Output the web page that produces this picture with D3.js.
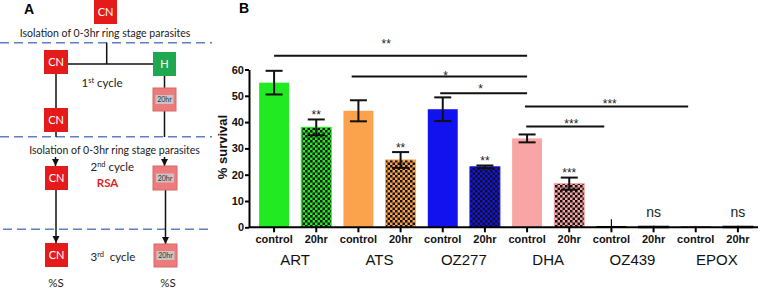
<!DOCTYPE html>
<html>
<head>
<meta charset="utf-8">
<script src="https://cdn.jsdelivr.net/npm/d3@7"></script>
<style>
  body { margin: 0; background: #fff; }
  svg { display: block; }
</style>
</head>
<body>
<div id="chart"></div>
<script>
// ---- data (panel B) ----
const groups = ["ART", "ATS", "OZ277", "DHA", "OZ439", "EPOX"];
const conditions = ["control", "20hr"];
const controlMean = [55, 44.3, 44.9, 33.8, 0.5, 0.3];
const controlErr = [4.5, 4, 4.5, 1.5, 2.6, 0.2];
const hrMean = [38, 25.6, 23.0, 16.6, 0.4, 0.4];
const hrErr = [3, 3, 0.5, 2.3, 0.2, 0.2];
const hrMarks = ["**", "**", "**", "***", "ns", "ns"];
const groupColors = ["#22ea22", "#fba24c", "#1212ef", "#f8a5a5", "#111", "#111"];
const yTicks = [0, 10, 20, 30, 40, 50, 60];
// comparison brackets, in bar slots (0..11) and % survival
const bracketFrom = [0, 1.84, 3.94, 5.95, 5.98];
const bracketTo = [6, 6, 6, 9.82, 7.83];
const bracketY = [65.2, 57.3, 51, 45.9, 38.3];
const bracketLabel = ["**", "*", "*", "***", "***"];
const bracketLabelAt = [2.66, 4.07, 4.9, 7.96, 7.05];

const W = 760, H = 288;
const svg = d3.select("#chart").append("svg")
  .attr("width", W).attr("height", H)
  .attr("viewBox", `0 0 ${W} ${H}`);

const defs = svg.append("defs");

// ================= panel A (schematic) =================
const A = svg.append("g").attr("class", "panelA");
const fontA = "Lato, 'Open Sans', sans-serif";
const red = "#e51a1a", green = "#1fa84f", pink = "#ee7b7b", dashBlue = "#5b80c4";

A.append("text").attr("x", 24).attr("y", 14)
  .style("font", "bold 14px 'Liberation Sans', Arial, sans-serif").text("A");

// dashed separators
[[0, 42.7], [0, 136.7], [3, 229.3]].forEach(([x0, y]) => {
  A.append("line").attr("x1", x0).attr("x2", 212).attr("y1", y).attr("y2", y)
    .attr("stroke", dashBlue).attr("stroke-width", 1.6).attr("stroke-dasharray", "9,5");
});

defs.append("marker").attr("id", "arr").attr("viewBox", "0 0 6 6")
  .attr("refX", 6).attr("refY", 3).attr("markerWidth", 5).attr("markerHeight", 5)
  .attr("orient", "auto")
  .append("path").attr("d", "M0,0L6,3L0,6Z").attr("fill", "#111");

const conn = [
  [106.7, 42.7, 106.7, 64, false],
  [68, 64, 153, 64, false],
  [56, 74, 56, 108, false],
  [56, 132, 56, 137, false],
  [164.5, 76, 164.5, 88, false],
  [164.5, 111, 164.5, 137, false],
  [55.5, 157, 55.5, 166, true],
  [164.5, 157, 164.5, 166, true],
  [56, 190, 56, 243, true],
  [165.5, 190, 165.5, 244, true]
];
conn.forEach(([x1, y1, x2, y2, arrow]) => {
  const l = A.append("line").attr("x1", x1).attr("y1", y1).attr("x2", x2).attr("y2", y2)
    .attr("stroke", "#111").attr("stroke-width", 1.5);
  if (arrow) l.attr("marker-end", "url(#arr)");
});

const boxes = [
  { x: 94, y: -1, w: 23, h: 25, kind: "CN" },
  { x: 44, y: 50, w: 24, h: 24, kind: "CN" },
  { x: 153, y: 52, w: 23, h: 24, kind: "H" },
  { x: 153, y: 88, w: 23, h: 23, kind: "20hr" },
  { x: 44, y: 108, w: 24, h: 24, kind: "CN" },
  { x: 45, y: 166, w: 23, h: 24, kind: "CN" },
  { x: 153, y: 166, w: 24, h: 24, kind: "20hr" },
  { x: 45, y: 243, w: 23, h: 24, kind: "CN" },
  { x: 154, y: 244, w: 23, h: 23, kind: "20hr" }
];
boxes.forEach(b => {
  const fill = b.kind === "CN" ? red : b.kind === "H" ? green : pink;
  A.append("rect").attr("x", b.x).attr("y", b.y).attr("width", b.w).attr("height", b.h)
    .attr("fill", fill).attr("stroke", b.kind === "20hr" ? "#d46a6a" : "none");
  const cx = b.x + b.w / 2, cy = b.y + b.h / 2;
  if (b.kind === "20hr") {
    A.append("rect").attr("x", cx - 9).attr("y", cy - 4.5).attr("width", 18).attr("height", 9)
      .attr("fill", "#c9c4c4");
    A.append("text").attr("x", cx).attr("y", cy + 2.5).attr("text-anchor", "middle")
      .style("font", "7px " + fontA).attr("fill", "#333").text("20hr");
  } else {
    A.append("text").attr("x", cx).attr("y", cy + 4).attr("text-anchor", "middle")
      .style("font", "11px " + fontA).attr("fill", "#fff").text(b.kind);
  }
});

A.append("text").attr("x", 105).attr("y", 37).attr("text-anchor", "middle")
  .style("font", "10.5px " + fontA).attr("fill", "#222")
  .text("Isolation of 0-3hr ring stage parasites");
A.append("text").attr("x", 114.5).attr("y", 154).attr("text-anchor", "middle")
  .style("font", "10.5px " + fontA).attr("fill", "#222")
  .text("Isolation of 0-3hr ring stage parasites");

function cycleLabel(x, y, num, sup, gap) {
  const t = A.append("text").attr("x", x).attr("y", y)
    .style("font", "11.5px " + fontA).attr("fill", "#222");
  t.append("tspan").text(num);
  t.append("tspan").attr("dy", -4).style("font-size", "7.5px").text(sup);
  t.append("tspan").attr("dy", 4).text(gap + "cycle");
}
cycleLabel(81.5, 87, "1", "st", " ");
cycleLabel(90.5, 171, "2", "nd", " ");
cycleLabel(90.5, 261, "3", "rd", "\u00a0 ");

A.append("text").attr("x", 107.5).attr("y", 187).attr("text-anchor", "middle")
  .style("font", "bold 11.5px " + fontA).attr("fill", "#e02424").text("RSA");
A.append("text").attr("x", 56).attr("y", 287).attr("text-anchor", "middle")
  .style("font", "11.5px " + fontA).attr("fill", "#222").text("%S");
A.append("text").attr("x", 168).attr("y", 287).attr("text-anchor", "middle")
  .style("font", "11.5px " + fontA).attr("fill", "#222").text("%S");

// ================= panel B (bar chart) =================
const fontB = "'Liberation Sans', Arial, sans-serif";
const B = svg.append("g").attr("class", "panelB");

B.append("text").attr("x", 239).attr("y", 13)
  .style("font", "bold 14px " + fontB).text("B");

const bars = [];
groups.forEach((g, i) => {
  bars.push({ group: g, gi: i, cond: conditions[0], mean: controlMean[i], err: controlErr[i], mark: null });
  bars.push({ group: g, gi: i, cond: conditions[1], mean: hrMean[i], err: hrErr[i], mark: hrMarks[i] });
});

const x = d3.scaleBand().domain(d3.range(bars.length))
  .range([249, 763]).paddingInner(0.29).paddingOuter(0.24);
const y = d3.scaleLinear().domain([0, 60]).range([227.3, 69.5]);
const bw = x.bandwidth();
const slot = d3.scaleLinear().domain([0, bars.length - 1])
  .range([x(0) + bw / 2, x(bars.length - 1) + bw / 2]);

// checkered fills for the 20hr bars
groupColors.forEach((c, i) => {
  const p = defs.append("pattern").attr("id", "chk" + i)
    .attr("patternUnits", "userSpaceOnUse").attr("width", 5).attr("height", 5);
  p.append("rect").attr("width", 5).attr("height", 5).attr("fill", c);
  p.append("rect").attr("width", 2.5).attr("height", 2.5).attr("fill", "#111");
  p.append("rect").attr("x", 2.5).attr("y", 2.5).attr("width", 2.5).attr("height", 2.5).attr("fill", "#111");
});

B.selectAll("rect.bar").data(bars).enter().append("rect")
  .attr("class", "bar")
  .attr("x", (d, i) => x(i))
  .attr("y", d => y(d.mean))
  .attr("width", bw)
  .attr("height", d => Math.max(1.5, y(0) - y(d.mean)))
  .attr("fill", d => d.cond === "20hr" ? `url(#chk${d.gi})` : groupColors[d.gi])
  .attr("stroke", d => d.cond === "20hr" ? groupColors[d.gi] : "none")
  .attr("stroke-width", 1);

// error bars
const eb = B.selectAll("g.err").data(bars).enter().append("g").attr("class", "err")
  .attr("stroke", "#111").attr("stroke-width", 2);
eb.append("line")
  .attr("x1", (d, i) => x(i) + bw / 2).attr("x2", (d, i) => x(i) + bw / 2)
  .attr("y1", d => y(Math.max(0, d.mean - d.err))).attr("y2", d => y(d.mean + d.err))
  .attr("stroke-width", d => d.mean < 1 ? 1.2 : 2);
eb.filter(d => d.mean >= 1).each(function (d) {
  const i = bars.indexOf(d), cx = x(i) + bw / 2;
  [d.mean - d.err, d.mean + d.err].forEach(v => {
    d3.select(this).append("line").attr("x1", cx - 8.5).attr("x2", cx + 8.5)
      .attr("y1", y(v)).attr("y2", y(v));
  });
});

// marks above 20hr bars
B.selectAll("text.mark").data(bars.filter(d => d.mark)).enter().append("text")
  .attr("class", "mark")
  .attr("x", d => x(bars.indexOf(d)) + bw / 2)
  .attr("y", d => d.mark === "ns" ? y(d.mean + d.err) - 9 : y(d.mean + d.err) - 0.5)
  .attr("text-anchor", "middle")
  .style("font", d => d.mark === "ns" ? "14px " + fontB : "12px " + fontB)
  .attr("fill", "#222")
  .text(d => d.mark);

// comparison brackets
const lift = [9, -2, 1, 0, 0];
bracketY.forEach((v, k) => {
  B.append("line")
    .attr("x1", slot(bracketFrom[k])).attr("x2", slot(bracketTo[k]))
    .attr("y1", y(v)).attr("y2", y(v))
    .attr("stroke", "#111").attr("stroke-width", 2);
  B.append("text")
    .attr("x", slot(bracketLabelAt[k]))
    .attr("y", y(v) + 1 - lift[k])
    .attr("text-anchor", "middle")
    .style("font", "12px " + fontB).attr("fill", "#222")
    .text(bracketLabel[k]);
});

// y axis
const yAxis = B.append("g").attr("transform", "translate(249,0)")
  .call(d3.axisLeft(y).tickValues(yTicks).tickSize(4).tickSizeOuter(0).tickPadding(1));
yAxis.select(".domain").attr("stroke-width", 2);
yAxis.selectAll(".tick line").attr("stroke-width", 2);
yAxis.selectAll(".tick text").style("font", "bold 11px " + fontB).attr("fill", "#111");

B.append("text")
  .attr("transform", "translate(227,147) rotate(-90)")
  .attr("text-anchor", "middle")
  .style("font", "bold 13px " + fontB).attr("fill", "#111")
  .text("% survival");

// x axis
const xAxis = B.append("g").attr("transform", `translate(0,${y(0)})`)
  .call(d3.axisBottom(x).tickSize(5).tickSizeOuter(0).tickPadding(3)
    .tickFormat(i => bars[i].cond));
xAxis.select(".domain").attr("d", "M249,0H758").attr("stroke-width", 2);
xAxis.selectAll(".tick line").attr("stroke-width", 2);
xAxis.selectAll(".tick text").style("font", "bold 11px " + fontB).attr("fill", "#111");

// group labels
B.selectAll("text.group").data(groups).enter().append("text")
  .attr("class", "group")
  .attr("x", (g, i) => (slot(2 * i) + slot(2 * i + 1)) / 2)
  .attr("y", 265)
  .attr("text-anchor", "middle")
  .style("font", "15px " + fontB).attr("fill", "#111")
  .text(g => g);
</script>
</body>
</html>
